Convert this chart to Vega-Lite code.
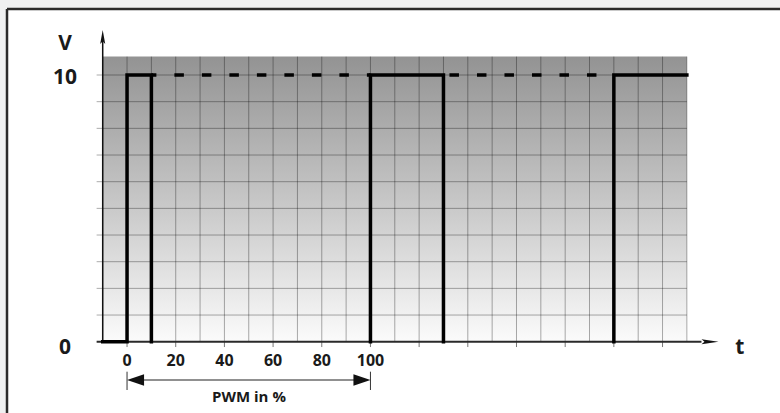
{
  "$schema": "https://vega.github.io/schema/vega-lite/v6.json",
  "width": 773,
  "height": 404,
  "autosize": {"type": "none"},
  "padding": {"left": 7, "top": 9, "right": 0, "bottom": 0},
  "background": "#eff0f1",
  "config": {"view": {"stroke": null, "fill": "white"}},
  "datasets": {
    "bg": [{"x": -10, "x2": 230, "y": 0, "y2": 10.69}],
    "vgrid": [
      {"x": -10}, {"x": 0}, {"x": 10}, {"x": 20}, {"x": 30}, {"x": 40}, {"x": 50}, {"x": 60}, {"x": 70}, {"x": 80}, {"x": 90}, {"x": 100},
      {"x": 110}, {"x": 120}, {"x": 130}, {"x": 140}, {"x": 150}, {"x": 160}, {"x": 170}, {"x": 180}, {"x": 190}, {"x": 200}, {"x": 210}, {"x": 220}, {"x": 230}
    ],
    "hgrid": [{"y": 1}, {"y": 2}, {"y": 3}, {"y": 4}, {"y": 5}, {"y": 6}, {"y": 7}, {"y": 8}, {"y": 9}, {"y": 10}],
    "ticks": [{"x": 0}, {"x": 20}, {"x": 40}, {"x": 60}, {"x": 80}, {"x": 100}, {"x": 120}, {"x": 140}, {"x": 160}, {"x": 180}, {"x": 200}, {"x": 220}],
    "signal": [
      {"seg": "a", "o": 1, "x": -10, "y": 0},
      {"seg": "a", "o": 2, "x": 0, "y": 0},
      {"seg": "a", "o": 3, "x": 0, "y": 10},
      {"seg": "a", "o": 4, "x": 10, "y": 10},
      {"seg": "a", "o": 5, "x": 10, "y": 0},
      {"seg": "b", "o": 1, "x": 100, "y": 0},
      {"seg": "b", "o": 2, "x": 100, "y": 10},
      {"seg": "b", "o": 3, "x": 130, "y": 10},
      {"seg": "b", "o": 4, "x": 130, "y": 0},
      {"seg": "c", "o": 1, "x": 200, "y": 0},
      {"seg": "c", "o": 2, "x": 200, "y": 10},
      {"seg": "c", "o": 3, "x": 230, "y": 10}
    ],
    "xlabels": [{"x": 0, "t": "0"}, {"x": 20, "t": "20"}, {"x": 40, "t": "40"}, {"x": 60, "t": "60"}, {"x": 80, "t": "80"}, {"x": 100, "t": "100"}],
    "biglabels": [
      {"x": -25.5, "y": 11.16, "t": "V"},
      {"x": -25.5, "y": 9.89, "t": "10"},
      {"x": -25.5, "y": -0.24, "t": "0"},
      {"x": 251.8, "y": -0.24, "t": "t"}
    ]
  },
  "layer": [
    {
      "data": {"name": "bg"},
      "mark": {"type": "rect", "fill": {"gradient": "linear", "x1": 0, "y1": 0, "x2": 0, "y2": 1, "stops": [{"offset": 0, "color": "#939393"}, {"offset": 0.5, "color": "#c6c6c6"}, {"offset": 1, "color": "#fbfbfb"}]}},
      "encoding": {
        "x": {"field": "x", "type": "quantitative", "scale": {"domain": [-49.32, 268.26], "nice": false, "zero": false}, "axis": null},
        "x2": {"field": "x2"},
        "y": {"field": "y", "type": "quantitative", "scale": {"domain": [-2.673, 12.475], "nice": false, "zero": false}, "axis": null},
        "y2": {"field": "y2"}
      }
    },
    {
      "data": {"name": "vgrid"},
      "mark": {"type": "rule", "color": "#000", "strokeOpacity": 0.33, "strokeWidth": 1},
      "encoding": {
        "x": {"field": "x", "type": "quantitative", "scale": {"domain": [-49.32, 268.26], "nice": false, "zero": false}, "axis": null},
        "y": {"datum": 0, "type": "quantitative", "scale": {"domain": [-2.673, 12.475], "nice": false, "zero": false}, "axis": null},
        "y2": {"datum": 10.69}
      }
    },
    {
      "data": {"name": "hgrid"},
      "mark": {"type": "rule", "color": "#000", "strokeOpacity": 0.33, "strokeWidth": 1},
      "encoding": {
        "x": {"datum": -12.5, "type": "quantitative", "scale": {"domain": [-49.32, 268.26], "nice": false, "zero": false}, "axis": null},
        "x2": {"datum": 230},
        "y": {"field": "y", "type": "quantitative", "scale": {"domain": [-2.673, 12.475], "nice": false, "zero": false}, "axis": null}
      }
    },
    {
      "data": {"name": "ticks"},
      "mark": {"type": "rule", "color": "#777", "strokeWidth": 1},
      "encoding": {
        "x": {"field": "x", "type": "quantitative", "scale": {"domain": [-49.32, 268.26], "nice": false, "zero": false}, "axis": null},
        "y": {"datum": -0.2, "type": "quantitative", "scale": {"domain": [-2.673, 12.475], "nice": false, "zero": false}, "axis": null},
        "y2": {"datum": 0}
      }
    },
    {
      "data": {"values": [{}]},
      "mark": {"type": "rule", "color": "#2a2a2a", "strokeWidth": 2},
      "encoding": {
        "x": {"datum": -12.5, "type": "quantitative", "scale": {"domain": [-49.32, 268.26], "nice": false, "zero": false}, "axis": null},
        "x2": {"datum": 236},
        "y": {"datum": 0, "type": "quantitative", "scale": {"domain": [-2.673, 12.475], "nice": false, "zero": false}, "axis": null}
      }
    },
    {
      "data": {"values": [{}]},
      "mark": {"type": "rule", "color": "#111", "strokeWidth": 1.5},
      "encoding": {
        "x": {"datum": -10, "type": "quantitative", "scale": {"domain": [-49.32, 268.26], "nice": false, "zero": false}, "axis": null},
        "y": {"datum": -0.05, "type": "quantitative", "scale": {"domain": [-2.673, 12.475], "nice": false, "zero": false}, "axis": null},
        "y2": {"datum": 11.3}
      }
    },
    {
      "data": {"values": [{}]},
      "mark": {"type": "point", "filled": true, "color": "#111", "opacity": 1, "size": 196, "shape": "M0,-1L0.36,1L0,0.6L-0.36,1Z"},
      "encoding": {
        "x": {"datum": -10, "type": "quantitative", "scale": {"domain": [-49.32, 268.26], "nice": false, "zero": false}, "axis": null},
        "y": {"datum": 11.425, "type": "quantitative", "scale": {"domain": [-2.673, 12.475], "nice": false, "zero": false}, "axis": null}
      }
    },
    {
      "data": {"values": [{}]},
      "mark": {"type": "point", "filled": true, "color": "#111", "opacity": 1, "size": 289, "shape": "M1,0L-1,-0.3L-0.65,0L-1,0.3Z"},
      "encoding": {
        "x": {"datum": 239.5, "type": "quantitative", "scale": {"domain": [-49.32, 268.26], "nice": false, "zero": false}, "axis": null},
        "y": {"datum": 0, "type": "quantitative", "scale": {"domain": [-2.673, 12.475], "nice": false, "zero": false}, "axis": null}
      }
    },
    {
      "data": {"values": [{"x": 10, "x2": 100}]},
      "mark": {"type": "rule", "color": "#000", "strokeWidth": 3.5, "strokeDash": [9.5, 18], "strokeDashOffset": 4.5},
      "encoding": {
        "x": {"field": "x", "type": "quantitative", "scale": {"domain": [-49.32, 268.26], "nice": false, "zero": false}, "axis": null},
        "x2": {"field": "x2"},
        "y": {"datum": 10, "type": "quantitative", "scale": {"domain": [-2.673, 12.475], "nice": false, "zero": false}, "axis": null}
      }
    },
    {
      "data": {"values": [{"x": 130, "x2": 200}]},
      "mark": {"type": "rule", "color": "#000", "strokeWidth": 3.5, "strokeDash": [9.5, 18], "strokeDashOffset": 21.5},
      "encoding": {
        "x": {"field": "x", "type": "quantitative", "scale": {"domain": [-49.32, 268.26], "nice": false, "zero": false}, "axis": null},
        "x2": {"field": "x2"},
        "y": {"datum": 10, "type": "quantitative", "scale": {"domain": [-2.673, 12.475], "nice": false, "zero": false}, "axis": null}
      }
    },
    {
      "data": {"name": "signal"},
      "mark": {"type": "line", "color": "#000", "strokeWidth": 3.5, "strokeJoin": "miter", "strokeCap": "square"},
      "encoding": {
        "x": {"field": "x", "type": "quantitative", "scale": {"domain": [-49.32, 268.26], "nice": false, "zero": false}, "axis": null},
        "y": {"field": "y", "type": "quantitative", "scale": {"domain": [-2.673, 12.475], "nice": false, "zero": false}, "axis": null},
        "detail": {"field": "seg"},
        "order": {"field": "o"}
      }
    },
    {
      "data": {"values": [{"x": 0}, {"x": 100}]},
      "mark": {"type": "rule", "color": "#333", "strokeWidth": 1},
      "encoding": {
        "x": {"field": "x", "type": "quantitative", "scale": {"domain": [-49.32, 268.26], "nice": false, "zero": false}, "axis": null},
        "y": {"datum": -1.124, "type": "quantitative", "scale": {"domain": [-2.673, 12.475], "nice": false, "zero": false}, "axis": null},
        "y2": {"datum": -1.811}
      }
    },
    {
      "data": {"values": [{}]},
      "mark": {"type": "rule", "color": "#222", "strokeWidth": 1.2},
      "encoding": {
        "x": {"datum": 2, "type": "quantitative", "scale": {"domain": [-49.32, 268.26], "nice": false, "zero": false}, "axis": null},
        "x2": {"datum": 98},
        "y": {"datum": -1.436, "type": "quantitative", "scale": {"domain": [-2.673, 12.475], "nice": false, "zero": false}, "axis": null}
      }
    },
    {
      "data": {"values": [{"x": 3.49, "d": "l"}]},
      "mark": {"type": "point", "filled": true, "color": "#111", "opacity": 1, "size": 289, "shape": "M-1,0L1,-0.69L1,0.69Z"},
      "encoding": {
        "x": {"field": "x", "type": "quantitative", "scale": {"domain": [-49.32, 268.26], "nice": false, "zero": false}, "axis": null},
        "y": {"datum": -1.436, "type": "quantitative", "scale": {"domain": [-2.673, 12.475], "nice": false, "zero": false}, "axis": null}
      }
    },
    {
      "data": {"values": [{"x": 96.51, "d": "r"}]},
      "mark": {"type": "point", "filled": true, "color": "#111", "opacity": 1, "size": 289, "shape": "M1,0L-1,-0.69L-1,0.69Z"},
      "encoding": {
        "x": {"field": "x", "type": "quantitative", "scale": {"domain": [-49.32, 268.26], "nice": false, "zero": false}, "axis": null},
        "y": {"datum": -1.436, "type": "quantitative", "scale": {"domain": [-2.673, 12.475], "nice": false, "zero": false}, "axis": null}
      }
    },
    {
      "data": {"name": "xlabels"},
      "mark": {"type": "text", "font": "Open Sans", "fontWeight": "bold", "fontSize": 16, "color": "#1a1a1a", "align": "center", "baseline": "middle"},
      "encoding": {
        "x": {"field": "x", "type": "quantitative", "scale": {"domain": [-49.32, 268.26], "nice": false, "zero": false}, "axis": null},
        "y": {"datum": -0.742, "type": "quantitative", "scale": {"domain": [-2.673, 12.475], "nice": false, "zero": false}, "axis": null},
        "text": {"field": "t"}
      }
    },
    {
      "data": {"name": "biglabels"},
      "mark": {"type": "text", "font": "Open Sans", "fontWeight": "bold", "fontSize": 21, "color": "#1a1a1a", "align": "center", "baseline": "middle"},
      "encoding": {
        "x": {"field": "x", "type": "quantitative", "scale": {"domain": [-49.32, 268.26], "nice": false, "zero": false}, "axis": null},
        "y": {"field": "y", "type": "quantitative", "scale": {"domain": [-2.673, 12.475], "nice": false, "zero": false}, "axis": null},
        "text": {"field": "t"}
      }
    },
    {
      "data": {"values": [{"x": 50.1, "y": -2.07, "t": "PWM in %"}]},
      "mark": {"type": "text", "font": "Open Sans", "fontWeight": "bold", "fontSize": 15, "color": "#1a1a1a", "align": "center", "baseline": "middle"},
      "encoding": {
        "x": {"field": "x", "type": "quantitative", "scale": {"domain": [-49.32, 268.26], "nice": false, "zero": false}, "axis": null},
        "y": {"field": "y", "type": "quantitative", "scale": {"domain": [-2.673, 12.475], "nice": false, "zero": false}, "axis": null},
        "text": {"field": "t"}
      }
    },
    {
      "data": {"values": [{}]},
      "mark": {"type": "rule", "color": "#2a2a2a", "strokeWidth": 2.5},
      "encoding": {
        "x": {"datum": -49.32, "type": "quantitative", "scale": {"domain": [-49.32, 268.26], "nice": false, "zero": false}, "axis": null},
        "y": {"datum": -2.673, "type": "quantitative", "scale": {"domain": [-2.673, 12.475], "nice": false, "zero": false}, "axis": null},
        "y2": {"datum": 12.475}
      }
    },
    {
      "data": {"values": [{}]},
      "mark": {"type": "rule", "color": "#2a2a2a", "strokeWidth": 2.5},
      "encoding": {
        "x": {"datum": -49.32, "type": "quantitative", "scale": {"domain": [-49.32, 268.26], "nice": false, "zero": false}, "axis": null},
        "x2": {"datum": 268.26},
        "y": {"datum": 12.475, "type": "quantitative", "scale": {"domain": [-2.673, 12.475], "nice": false, "zero": false}, "axis": null}
      }
    }
  ]
}
